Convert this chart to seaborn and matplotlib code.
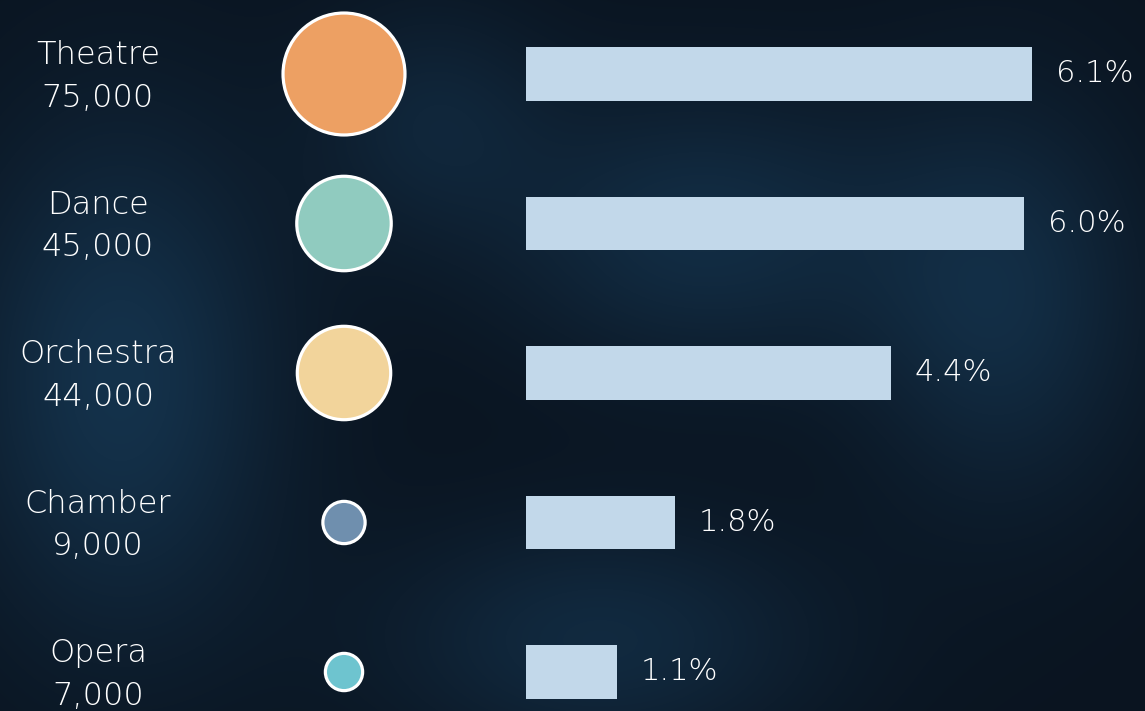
import matplotlib
matplotlib.use("Agg")
import matplotlib.pyplot as plt
import seaborn as sns
import pandas as pd
import numpy as np

categories = ["Theatre", "Dance", "Orchestra", "Chamber", "Opera"]
audience = [75000, 45000, 44000, 9000, 7000]
share_pct = [6.1, 6.0, 4.4, 1.8, 1.1]
circle_colors = ["#eda063", "#90cbbf", "#f2d49b", "#6f8fae", "#6ec4cf"]
bar_color = "#c2d8ea"
bg_color = "#0b1826"
text_color = "#ffffff"

df = pd.DataFrame({"category": categories, "audience": audience, "share": share_pct,
                   "pos": range(len(categories))})

sns.set_theme(style="white")
plt.rcParams["font.family"] = ["DejaVu Sans"]

W, H = 1145, 711
fig = plt.figure(figsize=(W / 100, H / 100), dpi=100, facecolor=bg_color)

# decorative painted-look background (smooth deterministic glow)
axbg = fig.add_axes([0, 0, 1, 1])
axbg.axis("off")
yy, xx = np.mgrid[0:H, 0:W]
glow = np.zeros((H, W))
for cx, cy, rx, ry, a in [(120, 380, 160, 260, 0.55), (700, 230, 200, 140, 0.45),
                          (1000, 300, 140, 200, 0.45), (600, 640, 220, 120, 0.4),
                          (430, 120, 120, 120, 0.3)]:
    glow += a * np.exp(-(((xx - cx) / rx) ** 2 + ((yy - cy) / ry) ** 2))
glow = np.clip(glow, 0, 1)
base = np.array([0x0a, 0x14, 0x20]) / 255
hi = np.array([0x1c, 0x4a, 0x6e]) / 255
img = base[None, None, :] * (1 - glow[..., None]) + hi[None, None, :] * glow[..., None]
axbg.imshow(img, extent=[0, W, H, 0], aspect="auto")

row0_px, row_step_px = 74, 149.5
ylim = ((H - row0_px) / row_step_px, -row0_px / row_step_px)

def px_axes(x0, x1):
    ax = fig.add_axes([x0 / W, 0, (x1 - x0) / W, 1])
    ax.set_facecolor("none")
    ax.set_ylim(*ylim)
    ax.axis("off")
    return ax

# bars
bar_left_px, px_per_pct = 526, 83.0
axb = px_axes(bar_left_px, W)
sns.barplot(data=df, x="share", y="category", orient="h", color=bar_color,
            width=0.36, saturation=1, linewidth=0, edgecolor="none", ax=axb)
axb.set_xlim(0, (W - bar_left_px) / px_per_pct)
axb.set_ylim(*ylim)
axb.axis("off")
for c in axb.containers:
    axb.bar_label(c, labels=[f"{v:.1f}%" for v in share_pct], padding=17,
                  color=text_color, fontsize=22, fontweight="light")

# circles
axc = px_axes(224, 464)
df["x0"] = 0
sns.scatterplot(data=df, x="x0", y="pos", hue="category", palette=circle_colors,
                size="audience", sizes=(720, 7711), edgecolor="white",
                linewidth=2.3, legend=False, ax=axc)
axc.set_xlim(-1, 1)
axc.set_ylim(*ylim)
axc.axis("off")

# labels
axl = px_axes(0, 196)
axl.set_xlim(-1, 1)
for i, (name, val) in enumerate(zip(categories, audience)):
    axl.text(0, i - 0.125, name, ha="center", va="center", color=text_color,
             fontsize=23, fontweight="light")
    axl.text(0, i + 0.16, f"{val:,}", ha="center", va="center", color=text_color,
             fontsize=23, fontweight="light")

fig.savefig("out.png", dpi=100, facecolor=bg_color)
